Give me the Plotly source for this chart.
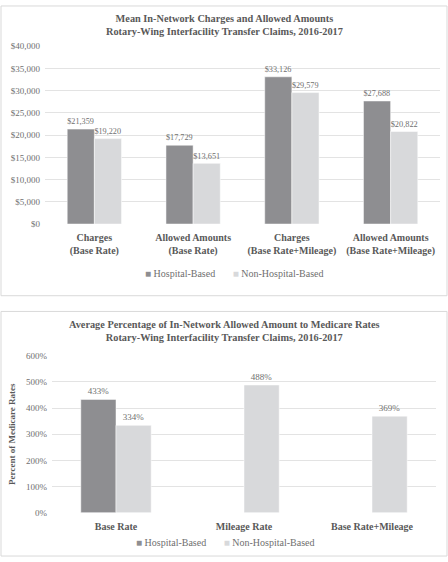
import plotly.graph_objects as go

# ---- data ----
charge_cats = ["Charges<br>(Base Rate)", "Allowed Amounts<br>(Base Rate)",
               "Charges<br>(Base Rate+Mileage)", "Allowed Amounts<br>(Base Rate+Mileage)"]
charge_hospital = [21359, 17729, 33126, 27688]
charge_non_hospital = [19220, 13651, 29579, 20822]

pct_cats = ["Base Rate", "Mileage Rate", "Base Rate+Mileage"]
pct_hospital = [433, None, None]
pct_non_hospital = [334, 488, 369]

series_names = ["Hospital-Based", "Non-Hospital-Based"]

DARK = "#8e8e91"
LIGHT = "#d8d9db"
TXT = "#595959"
TICK = "#6f6f6f"
GRID = "#e3e3e3"
FONT = "Liberation Serif, Times New Roman, serif"

W, H = 448, 562


def px_x(v):
    return v / W


def px_y(v):
    return 1 - v / H


fig = go.Figure()

# ---- top chart: charges / allowed amounts ----
for vals, name, color in [(charge_hospital, series_names[0], DARK),
                          (charge_non_hospital, series_names[1], LIGHT)]:
    fig.add_trace(go.Bar(
        x=charge_cats, y=vals, name=name,
        marker=dict(color=color, line=dict(color="white", width=0.5)),
        texttemplate="$%{y:,.0f}", textposition="outside",
        textfont=dict(size=9, color=TICK), cliponaxis=False,
        xaxis="x", yaxis="y", showlegend=False,
    ))

# ---- bottom chart: percent of medicare ----
for vals, name, color in [(pct_hospital, series_names[0], DARK),
                          (pct_non_hospital, series_names[1], LIGHT)]:
    fig.add_trace(go.Bar(
        x=pct_cats, y=vals, name=name,
        marker=dict(color=color, line=dict(color="white", width=0.5)),
        texttemplate="%{y:.0f}%", textposition="outside",
        textfont=dict(size=9, color=TICK), cliponaxis=False,
        xaxis="x2", yaxis="y2", showlegend=False,
    ))

axis_common = dict(showline=False, zeroline=False, ticks="", fixedrange=True)

fig.update_layout(
    width=W, height=H,
    margin=dict(l=0, r=0, t=0, b=0),
    paper_bgcolor="white", plot_bgcolor="white",
    font=dict(family=FONT, color=TXT),
    barmode="group", bargap=0.45, bargroupgap=0,
    showlegend=False,
    xaxis=dict(domain=[px_x(45), px_x(440)], anchor="y",
               ticktext=["<b>" + c + "</b>" for c in charge_cats], tickvals=charge_cats,
               ticklabelstandoff=6,
               tickfont=dict(size=10, color=TXT), **axis_common),
    yaxis=dict(domain=[px_y(223), px_y(42)], anchor="x", range=[0, 40000],
               dtick=5000, tickprefix="$", tickformat=",.0f",
               gridcolor=GRID, gridwidth=1, ticklabelstandoff=4,
               tickfont=dict(size=9, color=TICK), **axis_common),
    xaxis2=dict(domain=[px_x(52), px_x(436)], anchor="y2",
                ticktext=["<b>" + c + "</b>" for c in pct_cats], tickvals=pct_cats,
                ticklabelstandoff=6,
                tickfont=dict(size=10, color=TXT), **axis_common),
    yaxis2=dict(domain=[px_y(517), px_y(357)], anchor="x2", range=[0, 600],
                dtick=100, ticksuffix="%", gridcolor=GRID, gridwidth=1,
                ticklabelstandoff=4,
                tickfont=dict(size=9, color=TICK),
                title=dict(text="<b>Percent of Medicare Rates</b>",
                           font=dict(size=9, color=TXT), standoff=8),
                **axis_common),
)

# legends drawn as text rows under each chart
legend_text = "       ".join(
    f"<span style='color:{c}'>■</span> {n}"
    for n, c in zip(series_names, [DARK, LIGHT]))
for xc, yc in [(0.523, 273), (0.503, 547)]:
    fig.add_annotation(text=legend_text, x=xc, y=px_y(yc), xref="paper", yref="paper",
                       xanchor="center", yanchor="middle",
                       showarrow=False, font=dict(size=10, color=TICK))

# panel titles
titles = [
    ("<b>Mean In-Network Charges and Allowed Amounts<br>"
     "Rotary-Wing Interfacility Transfer Claims, 2016-2017</b>", 20),
    ("<b>Average Percentage of In-Network Allowed Amount to Medicare Rates<br>"
     "Rotary-Wing Interfacility Transfer Claims, 2016-2017</b>", 332),
]
for text, yc in titles:
    fig.add_annotation(text=text, x=0.5, y=px_y(yc), xref="paper", yref="paper",
                       xanchor="center", yanchor="middle", showarrow=False,
                       font=dict(size=10.3, color=TXT), align="center")

# panel borders
for y0, y1 in [(1, 296), (312, 561)]:
    fig.add_shape(type="rect", xref="paper", yref="paper",
                  x0=px_x(1), x1=px_x(447), y0=px_y(y1), y1=px_y(y0),
                  line=dict(color="#d9d9d9", width=1))

fig.write_html("out.html", config={"displayModeBar": False},
               post_script="document.body.style.margin='0';")
